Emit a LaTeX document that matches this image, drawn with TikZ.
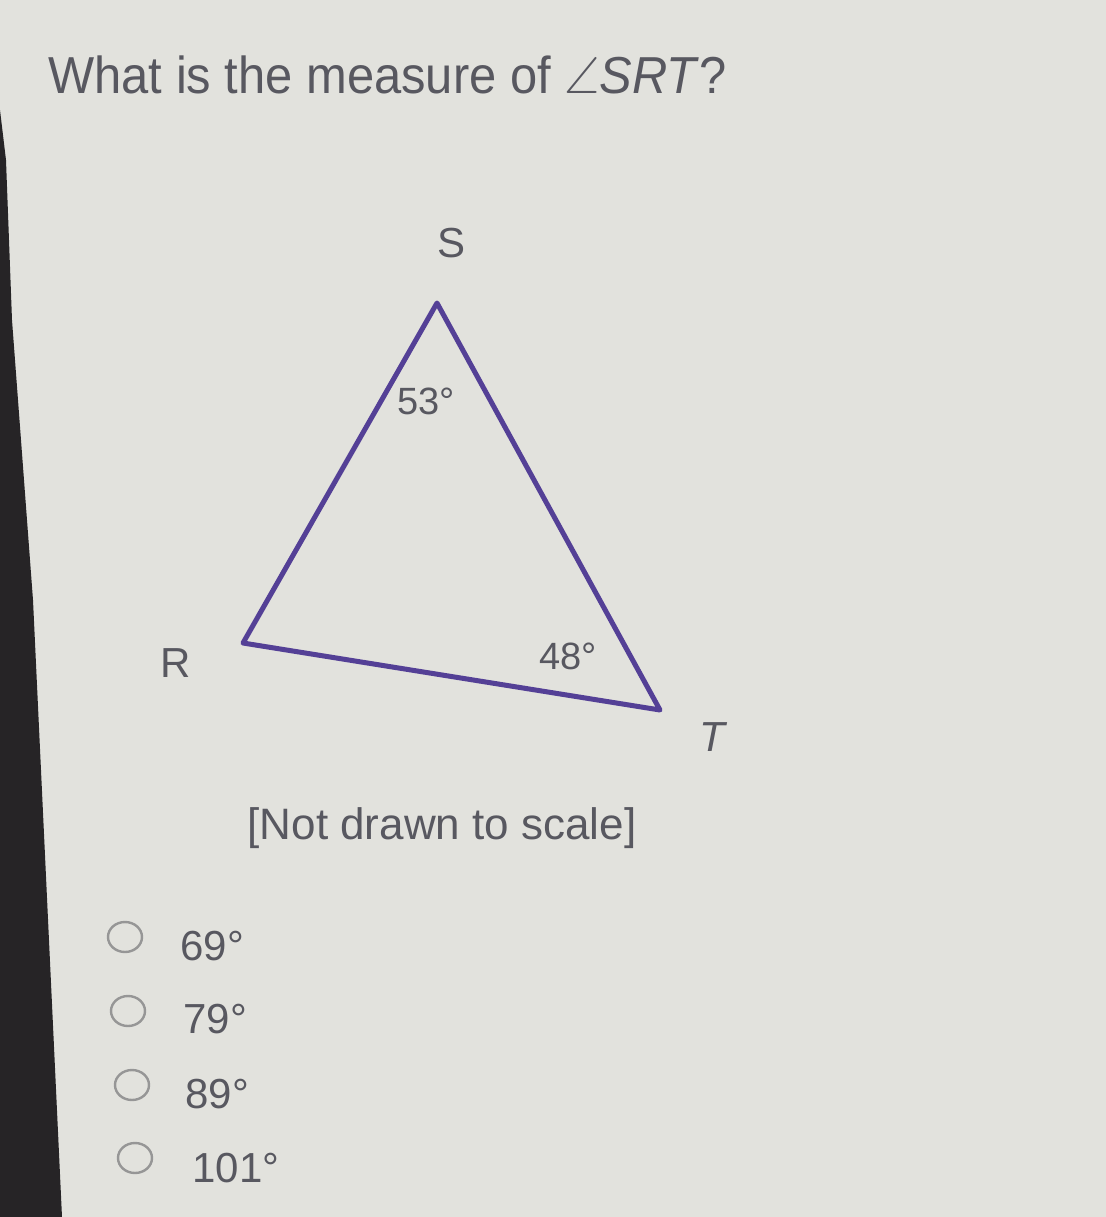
\documentclass[tikz,border=0pt]{standalone}
\usepackage{fontspec}
\setmainfont{Liberation Sans}
\usepackage{amsmath}
\usepackage{amssymb}

\definecolor{screen}{RGB}{226,226,221}
\definecolor{ink}{RGB}{88,88,96}
\definecolor{edge}{RGB}{84,64,150}
\definecolor{ring}{RGB}{150,150,150}
\definecolor{bezel}{RGB}{38,36,38}

\tikzset{
  lbl/.style={text=ink, inner sep=0pt},
  choice/.style={lbl, anchor=base west, font=\fontsize{21}{24}\selectfont},
}

\begin{document}
\begin{tikzpicture}[x=0.5pt,y=-0.5pt]
%\draw[help lines] (0,0) grid[step=100] (1106,1217);

 \fill[screen] (0,0) rectangle (1106,1217);
 \useasboundingbox (0,0) rectangle (1106,1217);
 \fill[bezel] (0,110) -- (6,160) -- (12,320) -- (33,600) -- (62,1217) -- (0,1217) -- cycle;

 \node[lbl, anchor=base west, font=\fontsize{26}{30}\selectfont, xscale=0.94] (question) at (48,93)
   {What is the measure of $\angle$\textit{SRT}?};

 \coordinate (S) at (437,303);
 \coordinate (R) at (243,643);
 \coordinate (T) at (660,710);
 \draw[edge, line width=2.5pt, line join=round] (R) -- (S) -- (T) -- cycle;

 \node[lbl, font=\fontsize{21}{24}\selectfont] (labS) at (452,243) {S};
 \node[lbl, font=\fontsize{21}{24}\selectfont] (labR) at (176,663) {R};
 \node[lbl, font=\fontsize{21}{24}\selectfont\itshape] (labT) at (712,737) {T};
 \node[lbl, font=\fontsize{19}{22}\selectfont] (angS) at (426,401) {53°};
 \node[lbl, font=\fontsize{19}{22}\selectfont] (angT) at (568,656) {48°};

 \node[lbl, font=\fontsize{22}{26}\selectfont] (note) at (442,828) {[Not drawn to scale]};

\begin{scope}[xshift=125*0.5pt, yshift=-937*0.5pt]
 \draw[ring, line width=1.2pt] circle[x radius=17, y radius=15];
\end{scope}
 \node[choice] (optA) at (180,960) {69°};

\begin{scope}[xshift=128*0.5pt, yshift=-1011*0.5pt]
 \draw[ring, line width=1.2pt] circle[x radius=17, y radius=15];
\end{scope}
 \node[choice] (optB) at (183,1033) {79°};

\begin{scope}[xshift=132*0.5pt, yshift=-1085*0.5pt]
 \draw[ring, line width=1.2pt] circle[x radius=17, y radius=15];
\end{scope}
 \node[choice] (optC) at (185,1108) {89°};

\begin{scope}[xshift=135*0.5pt, yshift=-1158*0.5pt]
 \draw[ring, line width=1.2pt] circle[x radius=17, y radius=15];
\end{scope}
 \node[choice] (optD) at (192,1182) {101°};

\end{tikzpicture}
\end{document}
